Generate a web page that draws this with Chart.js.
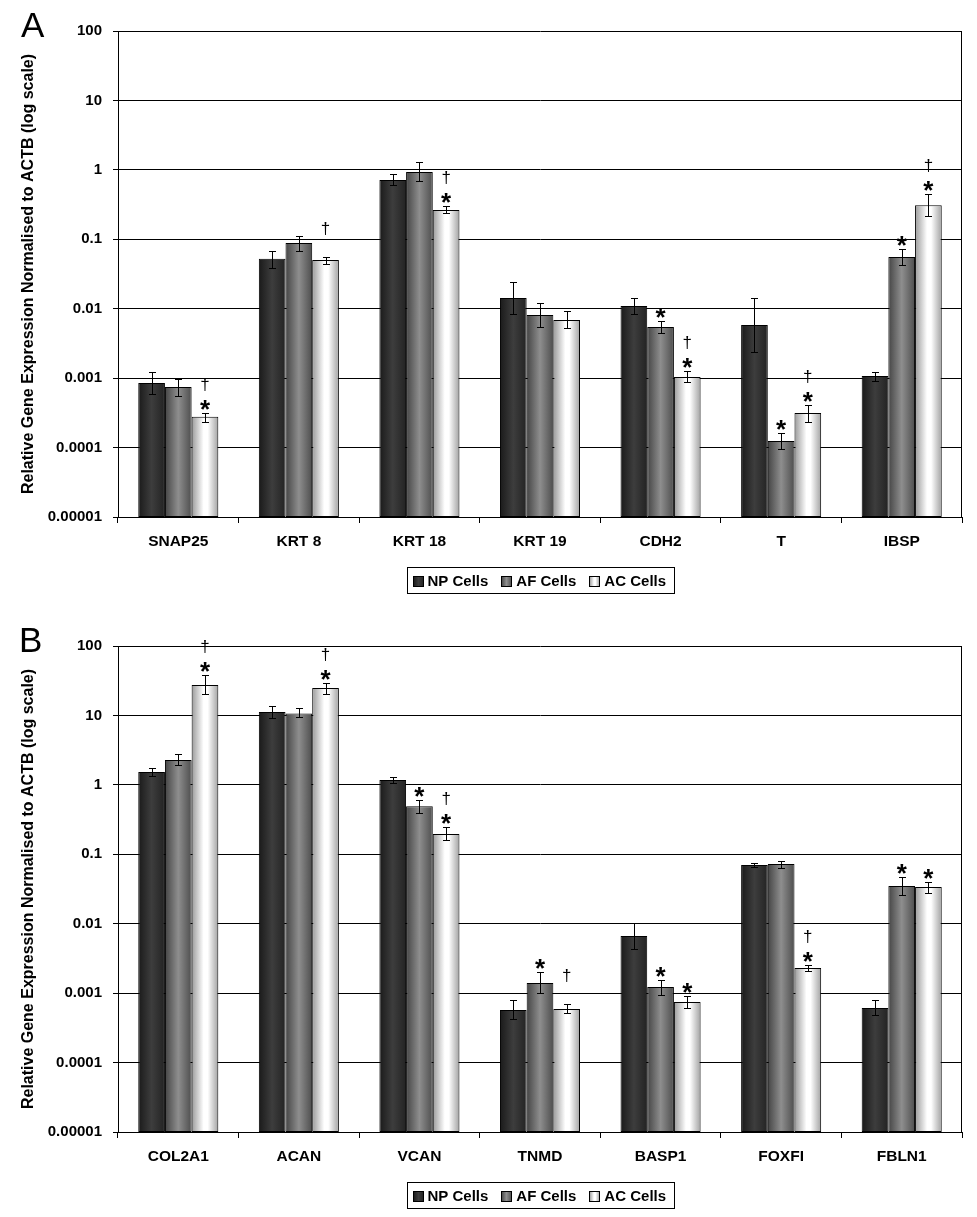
<!DOCTYPE html>
<html><head><meta charset="utf-8">
<script src="https://cdn.jsdelivr.net/npm/chart.js@4/dist/chart.umd.min.js"></script>
<style>
html,body{margin:0;padding:0;background:#fff;}
#wrap{position:relative;width:977px;height:1217px;overflow:hidden;}
.panel{position:absolute;left:0;width:977px;height:602px;}
.lbl{position:absolute;font:35px/34px "Liberation Sans",Arial,sans-serif;color:#000;}
</style></head><body>
<div id="wrap">
<div class="panel" style="top:0px"><canvas id="cA" width="977" height="602"></canvas></div>
<div class="panel" style="top:615px"><canvas id="cB" width="977" height="602"></canvas></div>
<div class="lbl" style="left:21px;top:8px;">A</div>
<div class="lbl" style="left:19px;top:623px;">B</div>
</div>
<script>
// ---------- data ----------
const seriesNames = ['NP Cells', 'AF Cells', 'AC Cells'];
const yTitle = 'Relative Gene Expression Normalised to ACTB (log scale)';
const tickValues = [0.00001, 0.0001, 0.001, 0.01, 0.1, 1, 10, 100];
const tickLabels = ['0.00001', '0.0001', '0.001', '0.01', '0.1', '1', '10', '100'];

// Panel A
const categoriesA = ['SNAP25', 'KRT 8', 'KRT 18', 'KRT 19', 'CDH2', 'T', 'IBSP'];
const npA    = [0.00085, 0.0525, 0.714, 0.0143, 0.0109, 0.00583, 0.00107];
const npAHi  = [0.00122, 0.0678, 0.871, 0.0243, 0.0143, 0.0141, 0.00122];
const npALo  = [0.00059, 0.039, 0.605, 0.0084, 0.00847, 0.00238, 0.00092];
const afA    = [0.000745, 0.0883, 0.931, 0.0081, 0.00546, 0.000124, 0.0556];
const afAHi  = [0.00098, 0.111, 1.30, 0.0121, 0.00656, 0.00016, 0.0725];
const afALo  = [0.00055, 0.0678, 0.682, 0.00546, 0.00447, 0.0000953, 0.0421];
const acA    = [0.000278, 0.0504, 0.264, 0.00687, 0.00104, 0.000315, 0.308];
const acAHi  = [0.000315, 0.0556, 0.298, 0.00916, 0.00127, 0.000405, 0.449];
const acALo  = [0.000232, 0.0445, 0.236, 0.00527, 0.00087, 0.000233, 0.216];
const sigNpA = ['', '', '', '', '', '', ''];
const sigAfA = ['', '', '', '', '*', '*', '*'];
const sigAcA = ['*†', '†', '*†', '', '*†', '*†', '*†'];

// Panel B
const categoriesB = ['COL2A1', 'ACAN', 'VCAN', 'TNMD', 'BASP1', 'FOXFI', 'FBLN1'];
const npB    = [1.53, 11.2, 1.17, 0.000571, 0.00665, 0.0702, 0.00061];
const npBHi  = [1.75, 13.7, 1.30, 0.000805, 0.0101, 0.075, 0.000805];
const npBLo  = [1.33, 9.18, 1.06, 0.000425, 0.00433, 0.0656, 0.000484];
const afB    = [2.28, 10.7, 0.490, 0.0014, 0.00123, 0.0725, 0.0349];
const afBHi  = [2.78, 12.6, 0.605, 0.00204, 0.00155, 0.080, 0.0471];
const afBLo  = [1.91, 9.48, 0.394, 0.001, 0.00094, 0.0636, 0.0259];
const acB    = [27.4, 24.8, 0.196, 0.000591, 0.000746, 0.0023, 0.0338];
const acBHi  = [38.2, 29.3, 0.247, 0.000698, 0.00091, 0.00254, 0.0399];
const acBLo  = [20.4, 20.4, 0.158, 0.000518, 0.000611, 0.0021, 0.0277];
const sigNpB = ['', '', '', '', '', '', ''];
const sigAfB = ['', '', '*', '*', '*', '', '*'];
const sigAcB = ['*†', '*†', '*†', '†', '*', '*†', '*'];

// ---------- styles ----------
const FONT = '"Liberation Sans", Arial, sans-serif';
const gradStops = [
  [[0, '#1a1a1a'], [0.5, '#3d3d3d'], [1, '#232323']],
  [[0, '#454545'], [0.5, '#8e8e8e'], [1, '#4e4e4e']],
  [[0, '#9a9a9a'], [0.45, '#ffffff'], [0.6, '#ffffff'], [1, '#a2a2a2']]
];
const solid = ['#333333', '#7a7a7a', '#f0f0f0'];

function makeGrad(ctx, x0, x1, i) {
  const g = ctx.createLinearGradient(x0, 0, x1, 0);
  gradStops[i].forEach(s => g.addColorStop(s[0], s[1]));
  return g;
}

const decoPlugin = {
  id: 'deco',
  beforeDatasetsDraw(chart) {
    const ctx = chart.ctx;
    chart.data.datasets.forEach((ds, i) => {
      chart.getDatasetMeta(i).data.forEach(el => {
        el.options.backgroundColor = makeGrad(ctx, el.x - el.width / 2, el.x + el.width / 2, i);
      });
    });
  },
  afterDatasetsDraw(chart) {
    const ctx = chart.ctx;
    const ys = chart.scales.y;
    ctx.save();
    chart.data.datasets.forEach((ds, i) => {
      chart.getDatasetMeta(i).data.forEach((el, j) => {
        const x = Math.round(el.x) + 0.5;
        const yh = ys.getPixelForValue(ds.hi[j]);
        const yl = ys.getPixelForValue(ds.lo[j]);
        ctx.strokeStyle = '#000';
        ctx.lineWidth = 1;
        ctx.beginPath();
        ctx.moveTo(x, Math.round(yh) + 0.5); ctx.lineTo(x, Math.round(yl) + 0.5);
        ctx.moveTo(x - 3.5, Math.round(yh) + 0.5); ctx.lineTo(x + 3.5, Math.round(yh) + 0.5);
        ctx.moveTo(x - 3.5, Math.round(yl) + 0.5); ctx.lineTo(x + 3.5, Math.round(yl) + 0.5);
        ctx.stroke();
        const s = ds.sig[j];
        ctx.fillStyle = '#000';
        ctx.textAlign = 'center';
        ctx.textBaseline = 'alphabetic';
        const starC = yh - 10;
        if (s.indexOf('*') >= 0) {
          ctx.font = 'bold 26px ' + FONT;
          ctx.fillText('*', el.x, starC + 15);
        }
        if (s.indexOf('†') >= 0) {
          ctx.font = '17px ' + FONT;
          ctx.fillText('†', el.x, starC - 18 + 5);
        }
      });
    });
    ctx.restore();
  },
  afterDraw(chart) {
    const ctx = chart.ctx;
    const ca = chart.chartArea;
    ctx.save();
    ctx.strokeStyle = '#000';
    ctx.lineWidth = 1;
    ctx.beginPath();
    const rx = Math.round(ca.right) - 0.5;
    ctx.moveTo(rx, Math.round(ca.top) + 0.5);
    ctx.lineTo(rx, Math.round(ca.bottom) + 0.5);
    ctx.stroke();
    // legend
    ctx.font = 'bold 15px ' + FONT;
    const box = 10, gapT = 5, gapI = 13, padL = 5, padR = 8;
    const widths = seriesNames.map(n => ctx.measureText(n).width);
    let total = padL + padR + gapI * (seriesNames.length - 1);
    widths.forEach(w => total += box + gapT + w);
    const cx = (ca.left + ca.right) / 2;
    const left = Math.round(cx - total / 2) + 0.5;
    const top = 567.5, h = 26;
    ctx.strokeRect(left, top, Math.round(total), h);
    let x = left + padL;
    const my = top + h / 2;
    seriesNames.forEach((n, i) => {
      const bx = Math.round(x) + 0.5, by = Math.round(my - box / 2) + 0.5;
      ctx.fillStyle = makeGrad(ctx, bx, bx + box, i);
      ctx.fillRect(bx, by, box, box);
      ctx.strokeRect(bx, by, box, box);
      ctx.fillStyle = '#000';
      ctx.textAlign = 'left';
      ctx.textBaseline = 'middle';
      ctx.fillText(n, x + box + gapT, my + 1);
      x += box + gapT + widths[i] + gapI;
    });
    ctx.restore();
  }
};

function makeChart(id, cats, vals, his, los, sigs) {
  const datasets = seriesNames.map((name, i) => ({
    label: name,
    data: vals[i],
    hi: his[i],
    lo: los[i],
    sig: sigs[i],
    backgroundColor: (c) => solid[c.datasetIndex],
    borderColor: '#000',
    borderWidth: 1,
    borderSkipped: false,
    categoryPercentage: 0.664,
    barPercentage: 1.0
  }));
  return new Chart(document.getElementById(id), {
    type: 'bar',
    data: { labels: cats, datasets },
    options: {
      responsive: false,
      animation: false,
      devicePixelRatio: 1,
      events: [],
      layout: { padding: { top: 31, right: 15, left: 0, bottom: 0 } },
      plugins: { legend: { display: false }, tooltip: { enabled: false } },
      scales: {
        x: {
          type: 'category',
          grid: { display: true, drawOnChartArea: false, drawTicks: true, tickLength: 6, color: '#000', offset: true },
          border: { display: true, color: '#000', width: 1 },
          ticks: { color: '#000', font: { family: FONT, size: 15.5, weight: 'bold' }, padding: 9, autoSkip: false, maxRotation: 0 },
          afterFit: (s) => { s.height = 85; }
        },
        y: {
          type: 'logarithmic',
          min: 0.00001,
          max: 100,
          afterBuildTicks: (s) => { s.ticks = tickValues.map(v => ({ value: v })); },
          grid: { color: '#000', lineWidth: 1, drawTicks: true, tickLength: 5 },
          border: { display: true, color: '#000', width: 1 },
          ticks: {
            color: '#000', font: { family: FONT, size: 15, weight: 'bold' }, padding: 11,
            autoSkip: false,
            callback: (v, i) => tickLabels[i]
          },
          title: {
            display: true, text: yTitle, color: '#000',
            font: { family: FONT, size: 16, weight: 'bold' },
            padding: { top: 19, bottom: 0 }
          },
          afterFit: (s) => { s.width = 118; }
        }
      }
    },
    plugins: [decoPlugin]
  });
}

makeChart('cA', categoriesA, [npA, afA, acA], [npAHi, afAHi, acAHi], [npALo, afALo, acALo], [sigNpA, sigAfA, sigAcA]);
makeChart('cB', categoriesB, [npB, afB, acB], [npBHi, afBHi, acBHi], [npBLo, afBLo, acBLo], [sigNpB, sigAfB, sigAcB]);
</script>
</body></html>
